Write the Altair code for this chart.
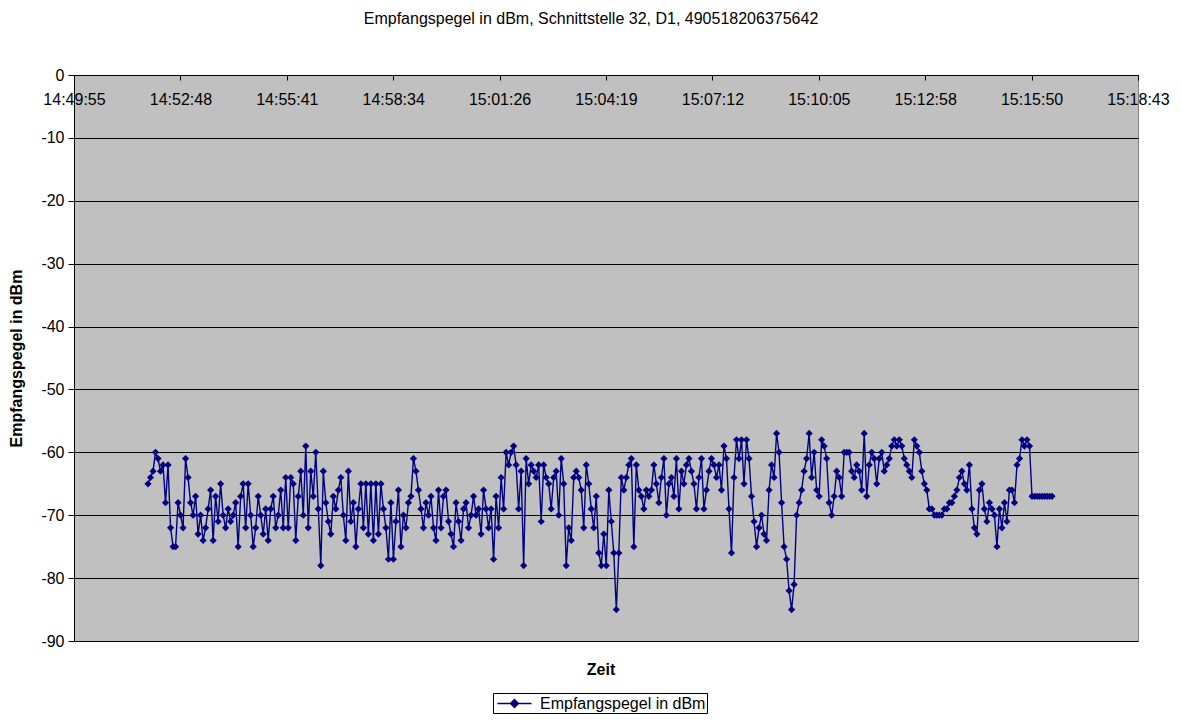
import altair as alt
import pandas as pd

title_text = "Empfangspegel in dBm, Schnittstelle 32, D1, 490518206375642"
series_name = "Empfangspegel in dBm"
x_title = "Zeit"
y_title = "Empfangspegel in dBm"

tick_labels = ["14:49:55", "14:52:48", "14:55:41", "14:58:34", "15:01:26", "15:04:19",
               "15:07:12", "15:10:05", "15:12:58", "15:15:50", "15:18:43"]
tick_step_s = 172.8          # seconds between axis labels
axis_end_s = 1728.0          # 14:49:55 -> 15:18:43
first_sample_s = 120.2       # first sample, seconds after 14:49:55
last_sample_s = 1588.4       # last sample, seconds after 14:49:55

levels = [
    -65, -64, -63, -60, -61, -63, -62, -68, -62, -72, -75, -75,
    -68, -70, -72, -61, -64, -68, -70, -67, -73, -70, -74, -72,
    -69, -66, -74, -67, -71, -65, -70, -72, -69, -71, -70, -68,
    -75, -67, -65, -72, -65, -70, -75, -72, -67, -70, -73, -69,
    -74, -69, -67, -72, -70, -66, -72, -64, -72, -64, -65, -74,
    -67, -63, -70, -59, -72, -63, -67, -60, -69, -78, -63, -68,
    -71, -73, -67, -69,
    -66, -64, -70, -74, -63, -71, -68, -75, -69, -65, -72, -65,
    -73, -65, -74, -65, -73, -65, -69, -72, -77, -68, -77, -71,
    -66, -75, -70, -72, -68, -67, -61, -63, -66, -69, -72, -68,
    -70, -67, -72, -74, -66, -72, -67, -66, -71, -73, -75, -68,
    -71, -74, -69, -68, -72, -70, -67, -70, -69, -73, -66, -69,
    -72, -69, -77, -67, -72, -64, -69, -60, -62, -60, -59, -62,
    -69, -63, -78, -61,
    -65, -62, -63, -64, -62, -71, -62, -64, -65, -69, -64, -63,
    -70, -61, -65, -78, -72, -74, -64, -63, -64, -66, -72, -62,
    -65, -69, -72, -67, -76, -78, -73, -78, -66, -71, -76, -85,
    -76, -64, -66, -64, -62, -61, -75, -62, -66, -67, -69, -66,
    -67, -66, -62, -65, -68, -64, -61, -70, -65, -64, -67, -61,
    -69, -63, -65, -62, -61, -63, -65, -69, -64, -61, -69, -66,
    -63, -61, -62, -64,
    -62, -66, -59, -61, -69, -76, -64, -58, -61, -58, -65, -58,
    -61, -67, -71, -75, -72, -70, -73, -74, -66, -62, -64, -57,
    -60, -68, -75, -77, -82, -85, -81, -70, -68, -66, -63, -61,
    -57, -64, -60, -66, -67, -58, -59, -61, -68, -70, -67, -63,
    -64, -67, -60, -60, -60, -63, -64, -62, -63, -66, -57, -67,
    -62, -60, -61, -65, -61, -60, -63, -62, -61, -59, -58, -59,
    -58, -59, -61, -62,
    -63, -64, -58, -59, -60, -63, -65, -66, -69, -69, -70, -70,
    -70, -70, -69, -69, -68, -68, -67, -66, -64, -63, -65, -66,
    -62, -69, -72, -73, -66, -65, -69, -71, -68, -69, -70, -75,
    -69, -72, -68, -71,
    -66, -66, -68, -62, -61, -58, -59, -58, -59, -67, -67, -67,
    -67, -67, -67, -67, -67, -67,
]

n = len(levels)
step = (last_sample_s - first_sample_s) / (n - 1)
times = [first_sample_s + i * step for i in range(n)]
df = pd.DataFrame({"t": times, "v": levels, "series": [series_name] * n})

W, H = 1064, 566
tick_vals = [i * tick_step_s for i in range(len(tick_labels))]
label_arr = "[" + ",".join("'" + s + "'" for s in tick_labels) + "]"

FONT = "Liberation Sans"
FS = 16

line = alt.Chart(df).mark_line(
    color="#000080", strokeWidth=1.4,
    point=alt.OverlayMarkDef(shape="diamond", size=52, filled=True, color="#000080", opacity=1),
).encode(
    x=alt.X("t:Q", scale=alt.Scale(domain=[0, axis_end_s], nice=False, zero=False),
            axis=alt.Axis(values=tick_vals, labelExpr=label_arr + "[round(datum.value/" + str(tick_step_s) + ")]",
                          orient="bottom", offset=-H, title=None, grid=False,
                          domainColor="black", tickColor="black", tickSize=5,
                          labelPadding=11, labelFontSize=FS, labelColor="black",
                          labelFont=FONT, labelOverlap=False, labelFlush=False)),
    y=alt.Y("v:Q", scale=alt.Scale(domain=[-90, 0], nice=False, zero=False),
            axis=alt.Axis(values=list(range(-90, 1, 10)), labelExpr="'' + datum.value",
                          title=y_title, grid=True,
                          gridColor="black", gridWidth=1, domainColor="black",
                          tickColor="black", tickSize=6, labelPadding=4,
                          labelFontSize=FS, labelColor="black", labelFont=FONT,
                          titleFontSize=FS, titleFont=FONT, titleFontWeight="bold",
                          titleColor="black", titleX=-50, titleY=H / 2)),
    color=alt.Color("series:N", scale=alt.Scale(domain=[series_name], range=["#000080"]),
                    legend=alt.Legend(title=None, orient="none", legendX=419, legendY=618,
                                      strokeColor="black", fillColor="white", padding=1,
                                      labelFontSize=FS, labelFont=FONT, labelColor="black",
                                      labelLimit=400,
                                      symbolType="M-2,0L2,0M0,-0.47L0.47,0L0,0.47L-0.47,0Z",
                                      symbolSize=289, symbolStrokeWidth=1.4,
                                      symbolFillColor="#000080", symbolStrokeColor="#000080",
                                      symbolOffset=11, labelOffset=16)),
)

zeit = alt.Chart(pd.DataFrame({"label": [x_title]})).mark_text(
    fontSize=FS, font=FONT, fontWeight="bold", color="black", baseline="middle", align="center"
).encode(x=alt.value(527), y=alt.value(H + 29), text="label:N")

chart = alt.layer(line, zeit).properties(
    width=W, height=H,
    title=alt.TitleParams(title_text, fontSize=FS, font=FONT, fontWeight="normal",
                          color="black", offset=40, dx=-15),
    autosize=alt.AutoSizeParams(type="none"),
    padding={"left": 66, "top": 67, "right": 34, "bottom": 73},
).configure_view(fill="#C0C0C0", stroke="#808080", strokeWidth=1)

chart.save("out.html", embed_options={"renderer": "svg", "actions": False})
